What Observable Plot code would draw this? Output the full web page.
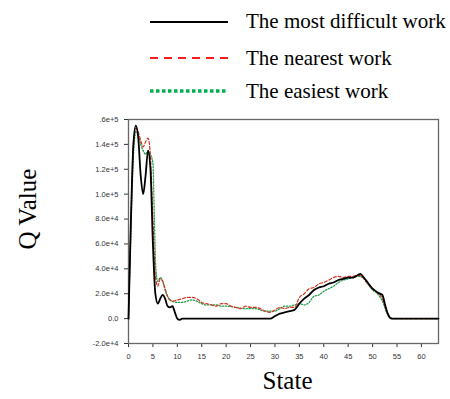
<!DOCTYPE html>
<html>
<head>
<meta charset="utf-8">
<script src="https://cdn.jsdelivr.net/npm/d3@7"></script>
<script src="https://cdn.jsdelivr.net/npm/@observablehq/plot@0.6"></script>
<style>
  html, body { margin: 0; padding: 0; background: #fff; }
  #wrap { position: relative; width: 450px; height: 399px; overflow: hidden; }
  #legend { position: relative; width: 450px; height: 105px; font-family: "Liberation Serif", "Times New Roman", serif; font-size: 21px; color: #000; }
  .row { position: absolute; left: 0; width: 450px; height: 24px; }
  .row svg { position: absolute; left: 150px; top: 0; }
  .row span { position: absolute; left: 246px; top: 0; line-height: 24px; white-space: nowrap; }
</style>
</head>
<body>
<div id="wrap">
  <div id="legend"></div>
  <div id="chart"></div>
</div>
<script>
// ---- data ----
const seriesNames = ["The most difficult work", "The nearest work", "The easiest work"];

const difficultX = [0, 0.5, 1, 1.5, 2, 2.5, 3, 3.5, 4, 4.5, 5, 5.5, 6, 6.5, 7, 7.5, 8, 8.5, 9, 9.5, 10, 10.5, 11, 12, 20, 29, 30, 31, 32, 33, 34, 35, 36, 37, 38, 39, 40, 41, 42, 43, 44, 45, 46, 47, 47.5, 48, 49, 50, 51, 52, 52.5, 53, 53.5, 54, 63.5];
const difficultQ = [0, 8, 14, 15.5, 14.5, 11.5, 10, 11.5, 13.5, 12, 6, 2, 1.2, 1.6, 1.9, 1.6, 1.0, 0.9, 1.0, 0.5, 0.0, -0.1, 0, 0, 0, 0, 0.2, 0.4, 0.5, 0.6, 0.7, 1.2, 1.6, 1.9, 2.3, 2.5, 2.6, 2.8, 2.9, 3.1, 3.2, 3.3, 3.3, 3.5, 3.6, 3.4, 2.9, 2.4, 2.1, 1.9, 1.2, 0.5, 0.1, 0, 0];

const nearestX = [0, 0.5, 1, 1.5, 2, 2.5, 3, 3.5, 4, 4.5, 5, 5.5, 6, 6.5, 7, 7.5, 8, 8.5, 9, 10, 11, 12, 13, 14, 15, 16, 17, 18, 19, 20, 21, 22, 23, 24, 25, 26, 27, 28, 29, 30, 31, 32, 33, 34, 35, 36, 37, 38, 39, 40, 41, 42, 43, 44, 45, 46, 47, 48, 49, 50, 51, 52, 53, 54, 63.5];
const nearestQ = [0, 8, 14, 15.3, 15, 14.3, 13.8, 14.2, 14.5, 13, 8, 3.5, 2.6, 3.2, 3.0, 2.4, 1.8, 1.5, 1.4, 1.5, 1.6, 1.7, 1.7, 1.6, 1.3, 1.2, 1.1, 1.0, 1.2, 1.2, 1.0, 0.9, 0.8, 1.0, 0.9, 0.9, 0.8, 0.6, 0.5, 0.7, 0.9, 0.8, 0.9, 0.9, 1.7, 2.0, 2.4, 2.5, 2.8, 2.9, 3.1, 3.3, 3.4, 3.3, 3.4, 3.4, 3.5, 3.3, 2.8, 2.4, 2.1, 1.6, 0.5, 0, 0];

const easiestX = [0, 0.5, 1, 1.5, 2, 2.5, 3, 3.5, 4, 4.5, 5, 5.3, 5.6, 6, 6.5, 7, 7.5, 8, 8.5, 9, 10, 11, 12, 13, 14, 15, 16, 17, 18, 19, 20, 22, 24, 26, 28, 29, 30, 31, 32, 33, 34, 35, 36, 37, 38, 39, 40, 41, 42, 43, 44, 45, 46, 47, 48, 49, 50, 51, 52, 53, 54, 63.5];
const easiestQ = [0, 7, 13, 15, 14.8, 14, 13.5, 13.2, 13.5, 13.2, 12.5, 8, 4, 3.0, 3.3, 3.0, 2.3, 1.8, 1.5, 1.4, 1.3, 1.3, 1.4, 1.5, 1.4, 1.2, 1.1, 1.1, 1.1, 1.0, 1.0, 0.9, 0.8, 0.8, 0.6, 0.6, 0.6, 0.8, 1.0, 1.0, 1.1, 1.2, 1.1, 1.3, 1.8, 1.9, 2.2, 2.4, 2.6, 2.9, 3.1, 3.2, 3.3, 3.4, 3.3, 2.8, 2.3, 2.0, 1.4, 0.4, 0, 0];

const qScale = 1e4; // Q values above are in units of 1e4

const yTicks = [-20000, 0, 20000, 40000, 60000, 80000, 100000, 120000, 140000, 160000];
const yTickLabels = ["-2.0e+4", "0.0", "2.0e+4", "4.0e+4", "6.0e+4", "8.0e+4", "1.0e+5", "1.2e+5", "1.4e+5", ".6e+5"];
const xTicks = [0, 5, 10, 15, 20, 25, 30, 35, 40, 45, 50, 55, 60];

// ---- styles ----
const styles = [
  {stroke: "#000000", width: 1.8, dash: null, legendColor: "#000", legendWidth: 2, legendDash: null},
  {stroke: "#d8321f", width: 1.2, dash: "3,2", legendColor: "#ff1a1a", legendWidth: 2, legendDash: "8,6"},
  {stroke: "#1f9e4a", width: 1.3, dash: "1.3,1.7", legendColor: "#00b050", legendWidth: 3.5, legendDash: "3.5,2.5"}
];

// ---- legend ----
const legend = document.getElementById("legend");
const rowTops = [9, 46, 79];
const lineYs = [13, 12, 12];
seriesNames.forEach((name, i) => {
  const row = document.createElement("div");
  row.className = "row";
  row.style.top = rowTops[i] + "px";
  const s = styles[i];
  row.innerHTML = `<svg width="80" height="24"><line x1="0" x2="78" y1="${lineYs[i]}" y2="${lineYs[i]}" stroke="${s.legendColor}" stroke-width="${s.legendWidth}" ${s.legendDash ? `stroke-dasharray="${s.legendDash}"` : ""}/></svg><span>${name}</span>`;
  legend.appendChild(row);
});

// ---- build table ----
const rows = [];
[[difficultX, difficultQ], [nearestX, nearestQ], [easiestX, easiestQ]].forEach(([xs, qs], i) => {
  xs.forEach((x, j) => rows.push({series: seriesNames[i], state: x, q: qs[j] * qScale}));
});

const tickLabel = new Map(yTicks.map((t, i) => [t, yTickLabels[i]]));

const chart = Plot.plot({
  width: 450,
  height: 294,
  marginLeft: 128,
  marginRight: 12,
  marginTop: 14,
  marginBottom: 56,
  style: {fontFamily: "Liberation Sans, Arial, sans-serif", fontSize: "7.5px", color: "#333", background: "#fff"},
  x: {domain: [0, 63.5], ticks: xTicks, tickSize: 4, tickPadding: 6, label: null},
  y: {domain: [-20000, 160000], ticks: yTicks, tickSize: 4, tickPadding: 6, tickFormat: d => tickLabel.get(d), label: null},
  marks: [
    Plot.frame({stroke: "#666", strokeWidth: 1.3}),
    ...seriesNames.map((name, i) =>
      Plot.line(rows.filter(r => r.series === name), {
        x: "state", y: "q", stroke: styles[i].stroke, strokeWidth: styles[i].width,
        strokeDasharray: styles[i].dash, curve: "monotone-x"
      })
    ).reverse(),
    Plot.text(["Q Value"], {frameAnchor: "left", dx: -101, dy: 18, rotate: -90, fontSize: 25, fontFamily: "Liberation Serif, Times New Roman, serif", fill: "#000"}),
    Plot.text(["State"], {frameAnchor: "bottom", dx: 4, dy: 45, fontSize: 25, fontFamily: "Liberation Serif, Times New Roman, serif", fill: "#000"})
  ]
});
document.getElementById("chart").appendChild(chart);
</script>
</body>
</html>
